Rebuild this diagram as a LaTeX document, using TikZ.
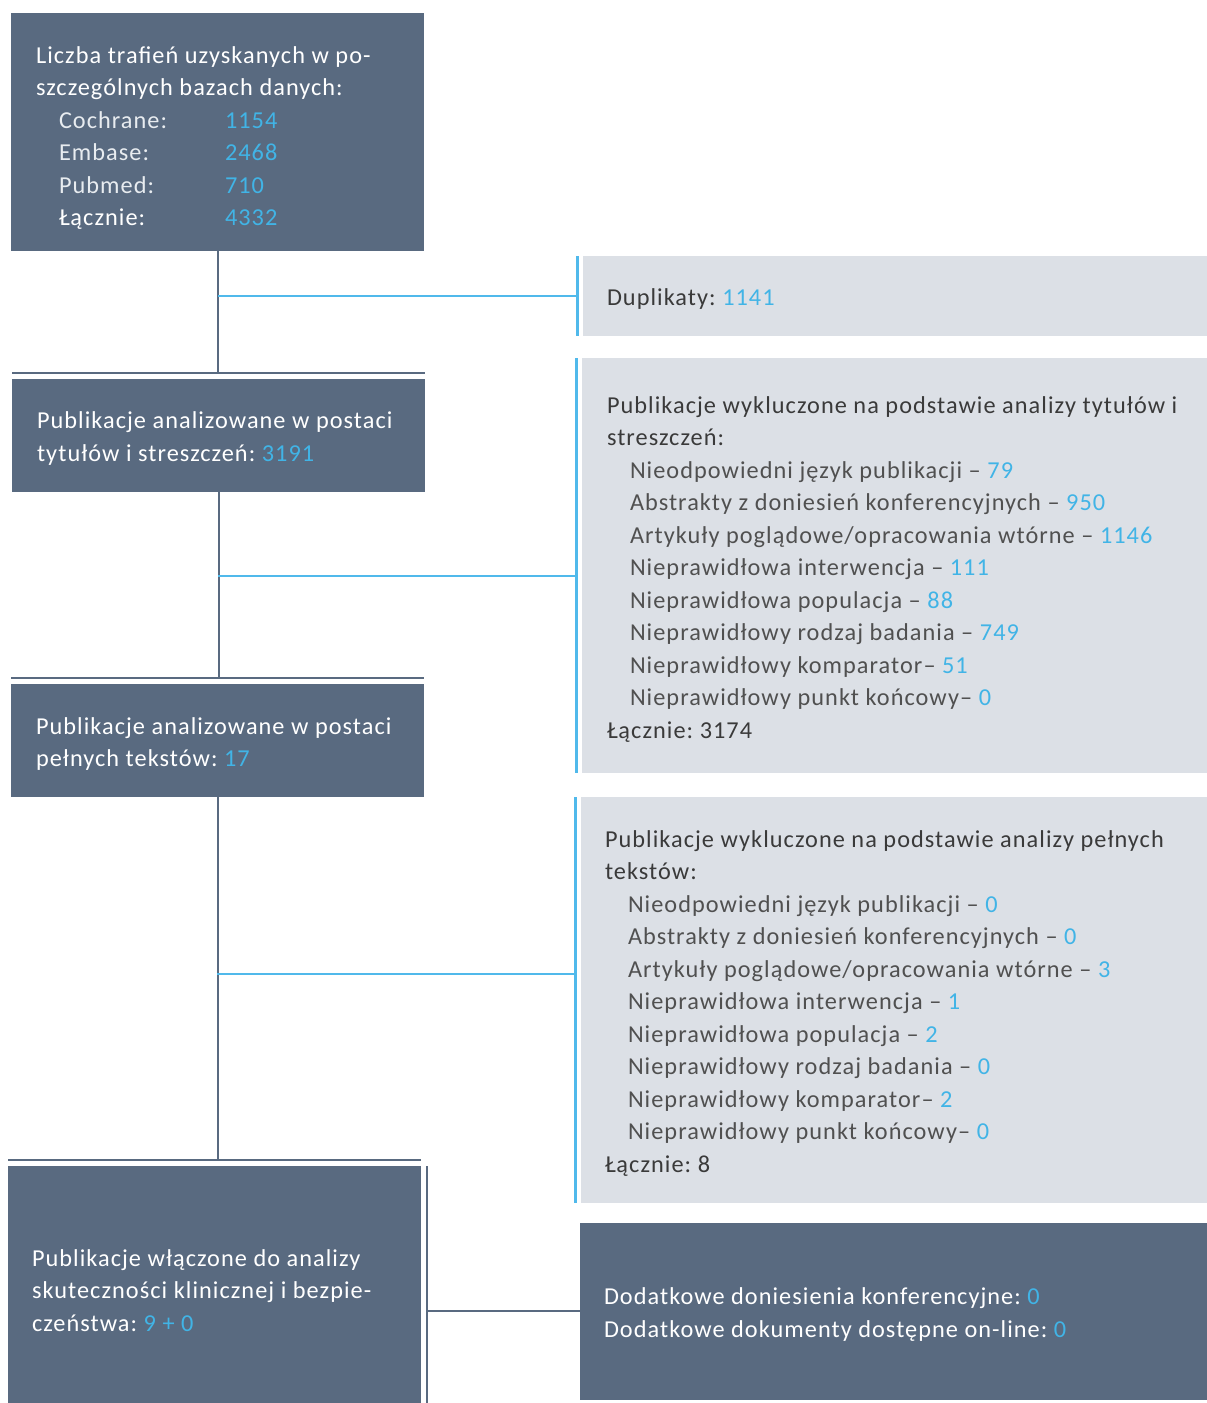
\documentclass[tikz,border=0pt]{standalone}
\usepackage{fontspec}
\setmainfont{Carlito}[LetterSpace=4.3]
\frenchspacing
\definecolor{boxdark}{RGB}{89,106,128}
\definecolor{boxlight}{RGB}{220,224,230}
\definecolor{numblue}{RGB}{65,180,230}
\definecolor{lineblue}{RGB}{80,185,235}
\definecolor{txtdark}{RGB}{58,58,58}
\definecolor{txtgray}{RGB}{80,80,80}
\definecolor{txtpale}{RGB}{232,236,240}
\newcommand{\nb}[1]{\textcolor{numblue}{#1}}
\tikzset{
  darkbox/.style={fill=boxdark, draw=none, inner sep=0pt, outer sep=0pt, anchor=north west},
  lightbox/.style={fill=boxlight, draw=none, inner sep=0pt, outer sep=0pt, anchor=north west},
  txt/.style={anchor=base west, inner sep=0pt, outer sep=0pt, font=\fontsize{24.3}{29}\selectfont},
  wtitle/.style={txt, text=white},
  witem/.style={txt, text=txtpale},
  dtitle/.style={txt, text=txtdark},
  ditem/.style={txt, text=txtgray},
  darkline/.style={draw=boxdark, line width=2pt},
  blueline/.style={draw=lineblue, line width=2.5pt},
  bluebar/.style={draw=lineblue, line width=3pt}
}
\begin{document}
\begin{tikzpicture}[x=1pt,y=-1pt]
\useasboundingbox (0,0) rectangle (1207,1403);
% boxes
\node[darkbox, minimum width=413pt, minimum height=238pt] (b1) at (11,13) {};
\node[lightbox, minimum width=624pt, minimum height=80pt] (d1) at (583,256) {};
\node[darkbox, minimum width=413pt, minimum height=113pt] (b2) at (12,379) {};
\node[lightbox, minimum width=625pt, minimum height=415pt] (e1) at (582,358) {};
\node[darkbox, minimum width=413pt, minimum height=113pt] (b3) at (11,684) {};
\node[lightbox, minimum width=626pt, minimum height=406pt] (e2) at (581,797) {};
\node[darkbox, minimum width=413pt, minimum height=237pt] (b4) at (8,1166) {};
\node[darkbox, minimum width=627pt, minimum height=177pt] (b5) at (580,1223) {};

% named junction points
\coordinate (j1) at (218,296);
\coordinate (j2) at (218,576);
\coordinate (j3) at (217,974);
\coordinate (j4) at (427,1311);

% decorative lines above / beside boxes
\draw[darkline] ([yshift=6pt]b2.north west) -- ([yshift=6pt]b2.north east);
\draw[darkline] ([yshift=6pt]b3.north west) -- ([yshift=6pt]b3.north east);
\draw[darkline] ([yshift=6pt]b4.north west) -- ([yshift=6pt]b4.north east);
\draw[darkline] ([xshift=6pt]b4.north east) -- ([xshift=6pt]b4.south east);
\draw[bluebar] ([xshift=-6pt]d1.north west) -- ([xshift=-6pt]d1.south west);
\draw[bluebar] ([xshift=-6pt]e1.north west) -- ([xshift=-6pt]e1.south west);
\draw[bluebar] ([xshift=-6pt]e2.north west) -- ([xshift=-6pt]e2.south west);

% main flow connectors
\draw[darkline] (b1.south) -- ([yshift=6pt]b1.south |- b2.north);
\draw[darkline] (b2.south) -- ([yshift=6pt]b2.south |- b3.north);
\draw[darkline] (b3.south) -- ([yshift=6pt]b3.south |- b4.north);
\draw[blueline] (j1) -- ([xshift=-6pt]j1 -| d1.west);
\draw[blueline] (j2) -- ([xshift=-6pt]j2 -| e1.west);
\draw[blueline] (j3) -- ([xshift=-6pt]j3 -| e2.west);
\draw[darkline] (j4) -- (j4 -| b5.west);

% box 1 text
\node[wtitle] (t1a) at (36,63) {Liczba trafień uzyskanych w po-};
\node[wtitle] (t1b) at (36,95.5) {szczególnych bazach danych:};
\node[witem] (t1c) at (59,128) {Cochrane:};
\node[witem] (t1d) at (59,160.5) {Embase:};
\node[witem] (t1e) at (59,193) {Pubmed:};
\node[wtitle] (t1f) at (59,225.5) {Łącznie:};
\node[txt, text=numblue] (n1c) at (225,128) {1154};
\node[txt, text=numblue] (n1d) at (225,160.5) {2468};
\node[txt, text=numblue] (n1e) at (225,193) {710};
\node[txt, text=numblue] (n1f) at (225,225.5) {4332};

% duplicates
\node[dtitle] (td) at (607,305) {Duplikaty: \nb{1141}};

% box 2 text
\node[wtitle] (t2a) at (37,428) {Publikacje analizowane w postaci};
\node[wtitle] (t2b) at (37,461) {tytułów i streszczeń: \nb{3191}};

% exclusion 1
\node[dtitle] (e1a) at (607,413) {Publikacje wykluczone na podstawie analizy tytułów i};
\node[dtitle] (e1b) at (607,445.5) {streszczeń:};
\node[ditem] (e1c) at (630,478) {Nieodpowiedni język publikacji – \nb{79}};
\node[ditem] (e1d) at (630,510.5) {Abstrakty z doniesień konferencyjnych – \nb{950}};
\node[ditem] (e1e) at (630,543) {Artykuły poglądowe/opracowania wtórne – \nb{1146}};
\node[ditem] (e1f) at (630,575.5) {Nieprawidłowa interwencja – \nb{111}};
\node[ditem] (e1g) at (630,608) {Nieprawidłowa populacja – \nb{88}};
\node[ditem] (e1h) at (630,640.5) {Nieprawidłowy rodzaj badania – \nb{749}};
\node[ditem] (e1i) at (630,673) {Nieprawidłowy komparator– \nb{51}};
\node[ditem] (e1j) at (630,705.5) {Nieprawidłowy punkt końcowy– \nb{0}};
\node[dtitle] (e1k) at (607,738) {Łącznie: 3174};

% box 3 text
\node[wtitle] (t3a) at (36,734) {Publikacje analizowane w postaci};
\node[wtitle] (t3b) at (36,766.5) {pełnych tekstów: \nb{17}};

% exclusion 2
\node[dtitle] (e2a) at (605,847) {Publikacje wykluczone na podstawie analizy pełnych};
\node[dtitle] (e2b) at (605,879.5) {tekstów:};
\node[ditem] (e2c) at (628,912) {Nieodpowiedni język publikacji – \nb{0}};
\node[ditem] (e2d) at (628,944.5) {Abstrakty z doniesień konferencyjnych – \nb{0}};
\node[ditem] (e2e) at (628,977) {Artykuły poglądowe/opracowania wtórne – \nb{3}};
\node[ditem] (e2f) at (628,1009.5) {Nieprawidłowa interwencja – \nb{1}};
\node[ditem] (e2g) at (628,1042) {Nieprawidłowa populacja – \nb{2}};
\node[ditem] (e2h) at (628,1074.5) {Nieprawidłowy rodzaj badania – \nb{0}};
\node[ditem] (e2i) at (628,1107) {Nieprawidłowy komparator– \nb{2}};
\node[ditem] (e2j) at (628,1139.5) {Nieprawidłowy punkt końcowy– \nb{0}};
\node[dtitle] (e2k) at (605,1172) {Łącznie: 8};

% box 4 text
\node[wtitle] (t4a) at (32,1266) {Publikacje włączone do analizy};
\node[wtitle] (t4b) at (32,1298.5) {skuteczności klinicznej i bezpie-};
\node[wtitle] (t4c) at (32,1331) {czeństwa: \nb{9 + 0}};

% box 5 text
\node[wtitle] (t5a) at (604,1304) {Dodatkowe doniesienia konferencyjne: \nb{0}};
\node[wtitle] (t5b) at (604,1337) {Dodatkowe dokumenty dostępne on-line: \nb{0}};
\end{tikzpicture}
\end{document}
